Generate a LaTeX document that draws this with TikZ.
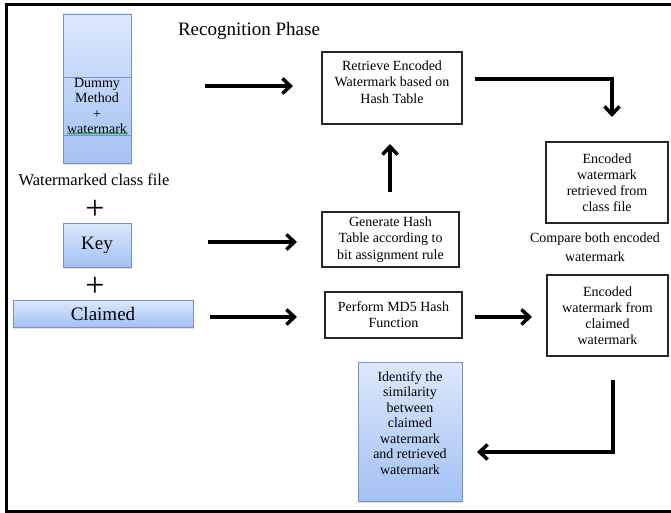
\documentclass[tikz,border=0pt]{standalone}
\usepackage{fontspec}
\setmainfont{Liberation Serif}
\usetikzlibrary{arrows.meta,shadows,decorations.pathmorphing}

\definecolor{boxtop}{RGB}{221,232,252}
\definecolor{boxbot}{RGB}{163,193,243}
\definecolor{boxline}{RGB}{118,146,204}

\begin{document}
\begin{tikzpicture}[x=1pt, y=-1pt]
\tikzset{
    wbox/.style={rectangle, draw=black!85, line width=1.1pt, align=center, inner sep=2pt, font=\fontsize{14}{16}\selectfont},
    bbox/.style={rectangle, draw=boxline, line width=0.9pt, top color=boxtop, bottom color=boxbot,
        drop shadow={opacity=0.25, shadow xshift=1pt, shadow yshift=-2pt}, align=center, inner sep=2pt},
    txt/.style={align=center, inner sep=1pt, font=\fontsize{14}{15.5}\selectfont},
    plus/.style={inner sep=0pt, font=\fontsize{34}{34}\selectfont},
    arr/.style={line width=3.5pt, -{Straight Barb[length=8pt, width=15pt]}}
}
\useasboundingbox (0,0) rectangle (671,513);
\draw[line width=3pt] (676,5) -- (6,5) -- (6,511) -- (676,511);

  % left column
  \node[bbox, minimum width=68pt, minimum height=149pt] (dummy) at (97,88.5) {};
  \draw[boxline, line width=0.9pt] (63,77) -- (131,77) (63,135) -- (131,135);
  \node[txt, font=\fontsize{14}{15.5}\selectfont] (dummytxt) at (97,106) {Dummy\\Method\\+\\watermark};
  \draw[green!55!black, line width=0.5pt, decorate, decoration={snake, amplitude=0.7pt, segment length=2.5pt}] (67,133.5) -- (128,133.5);
  \node[font=\fontsize{16.5}{18}\selectfont] (wmtext) at (94,180) {Watermarked class file};
  \node[plus] (plus1) at (95,210) {+};
  \node[bbox, minimum width=68pt, minimum height=44pt, font=\fontsize{19}{21}\selectfont] (key) at (97,245) {Key};
  \node[plus] (plus2) at (95,287) {+};
  \node[bbox, minimum width=180pt, minimum height=27pt, font=\fontsize{19}{21}\selectfont] (claimed) at (103,313.5) {Claimed};

  \node[font=\fontsize{19}{21}\selectfont] (title) at (249,31) {Recognition Phase};

  % middle column
  \node[wbox, minimum width=140pt, minimum height=72pt] (retrieve) at (392,88) {};
  \node[txt, font=\fontsize{14}{16.5}\selectfont] (retrievetxt) at (392,82) {Retrieve Encoded\\Watermark based on\\Hash Table};
  \node[wbox, minimum width=137pt, minimum height=55pt, font=\fontsize{14}{16.5}\selectfont] (genhash) at (390.5,239.5) {Generate Hash\\Table according to\\bit assignment rule};
  \node[wbox, minimum width=137pt, minimum height=46pt] (md5) at (393.5,315) {Perform MD5 Hash\\Function};
  \node[bbox, minimum width=104pt, minimum height=139pt] (identify) at (410,431.5) {};
  \node[txt] (identifytxt) at (410,423) {Identify the\\similarity\\between\\claimed\\watermark\\and retrieved\\watermark};

  % right column
  \node[wbox, minimum width=122pt, minimum height=81pt] (encret) at (607,182.5) {Encoded\\watermark\\retrieved from\\class file};
  \node[txt, font=\fontsize{14}{19}\selectfont] (compare) at (595,247.5) {Compare both encoded\\watermark};
  \node[wbox, minimum width=121pt, minimum height=81pt] (encclm) at (607.5,315.5) {Encoded\\watermark from\\claimed\\watermark};

  % arrow ends
  \node[coordinate] (a1s) at (205,86) {};
  \node[coordinate] (a1e) at (293,86) {};
  \node[coordinate] (k1s) at (208,242) {};
  \node[coordinate] (k1e) at (297,242) {};
  \node[coordinate] (c1s) at (210,317) {};
  \node[coordinate] (c1e) at (297,317) {};
  \node[coordinate] (u1s) at (390,192) {};
  \node[coordinate] (u1e) at (390,144) {};
  \node[coordinate] (r1s) at (475,79) {};
  \node[coordinate] (r1e) at (612,117) {};
  \node[coordinate] (m1s) at (475,317) {};
  \node[coordinate] (m1e) at (532,317) {};
  \node[coordinate] (e2s) at (613,380) {};
  \node[coordinate] (e2e) at (477,452) {};

  \draw[arr] (a1s) -- (a1e);
  \draw[arr] (k1s) -- (k1e);
  \draw[arr] (c1s) -- (c1e);
  \draw[arr] (u1s) -- (u1e);
  \draw[arr] (r1s) -| (r1e);
  \draw[arr] (m1s) -- (m1e);
  \draw[arr] (e2s) |- (e2e);
\end{tikzpicture}
\end{document}
